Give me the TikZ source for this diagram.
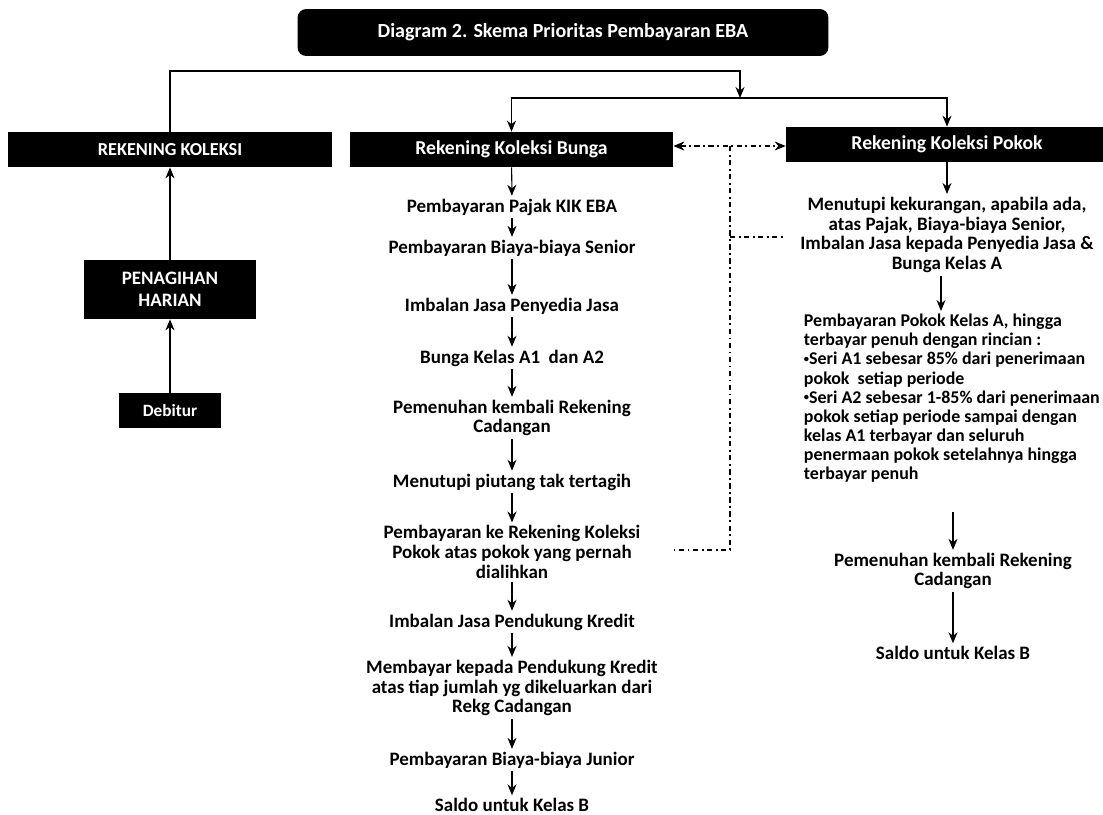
\documentclass[tikz,border=0pt]{standalone}
\usepackage{fontspec}
\setmainfont{Carlito}
\usetikzlibrary{arrows.meta,positioning,calc}
\newcommand{\dotb}{\raisebox{0.25ex}{\fontsize{6}{6}\selectfont•}}
\tikzset{
  acct/.style={fill=black, text=white, inner sep=2pt, minimum height=7mm, font=\fontsize{11.2}{12}\selectfont\bfseries},
  ttl/.style={fill=black, text=white, rounded corners=5pt, minimum width=10.62cm, minimum height=9.4mm, font=\fontsize{11.4}{13}\selectfont\bfseries},
  stp/.style={align=center, inner sep=1.5pt, font=\fontsize{10.8}{11.3}\selectfont\bfseries},
  flow/.style={-{Stealth[length=2.2mm,width=1.8mm]}, semithick},
  dlink/.style={semithick, dash pattern=on 3pt off 2pt on 1pt off 2pt}
}
\begin{document}
\begin{tikzpicture}[x=0.02cm,y=-0.02cm]
  \useasboundingbox (0,0) rectangle (1103,815);
  \node[ttl] (title) at (563,32.5) {Diagram 2. Skema Prioritas Pembayaran EBA};
  % left column
  \node[acct, minimum width=6.48cm, font=\fontsize{10.4}{11}\selectfont\bfseries] (rk) at (170,149.5) {REKENING KOLEKSI};
  \node[acct, minimum width=3.46cm, minimum height=11.8mm, align=center, font=\fontsize{10.8}{12.5}\selectfont\bfseries] (tagih) at (170,289.5) {PENAGIHAN\\HARIAN};
  \node[acct, minimum width=2.04cm, font=\fontsize{9.8}{11}\selectfont\bfseries] (deb) at (170,410.5) {Debitur};
  % accounts
  \node[acct, minimum width=6.46cm] (rkb) at (511.5,149.5) {Rekening Koleksi Bunga};
  \node[acct, minimum width=6.44cm] (rkp) at (947,144.5) {Rekening Koleksi Pokok};
  % interest waterfall
  \node[stp] (b1) at (512,207) {Pembayaran Pajak KIK EBA};
  \node[stp] (b2) at (512,248) {Pembayaran Biaya-biaya Senior};
  \node[stp] (b3) at (512,306) {Imbalan Jasa Penyedia Jasa};
  \node[stp] (b4) at (512,358) {Bunga Kelas A1~ dan A2};
  \node[stp] (b5) at (512,418) {Pemenuhan kembali Rekening\\Cadangan};
  \node[stp] (b6) at (512,482) {Menutupi piutang tak tertagih};
  \node[stp] (b7) at (512,552) {Pembayaran ke Rekening Koleksi\\Pokok atas pokok yang pernah\\dialihkan};
  \node[stp] (b8) at (512,622) {Imbalan Jasa Pendukung Kredit};
  \node[stp] (b9) at (512,688) {Membayar kepada Pendukung Kredit\\atas tiap jumlah yg dikeluarkan dari\\Rekg Cadangan};
  \node[stp] (b10) at (512,760) {Pembayaran Biaya-biaya Junior};
  \node[stp] (b11) at (512,805) {Saldo untuk Kelas B};
  % principal waterfall
  \node[stp] (p1) at (947,235) {Menutupi kekurangan, apabila ada,\\atas Pajak, Biaya-biaya Senior,\\Imbalan Jasa kepada Penyedia Jasa \&\\Bunga Kelas A};
  \node[stp, align=left, anchor=north west, font=\fontsize{10.2}{10.9}\selectfont\bfseries] (p2) at (801,311) {Pembayaran Pokok Kelas A, hingga\\terbayar penuh dengan rincian :\\\dotb Seri A1 sebesar 85\% dari penerimaan\\pokok~ setiap periode\\\dotb Seri A2 sebesar 1-85\% dari penerimaan\\pokok setiap periode sampai dengan\\kelas A1 terbayar dan seluruh\\penermaan pokok setelahnya hingga\\terbayar penuh};
  \node[stp] (p3) at (953,571) {Pemenuhan kembali Rekening\\Cadangan};
  \node[stp] (p4) at (953,653) {Saldo untuk Kelas B};
  % helper points
  \coordinate (top) at (740,71);
  \coordinate (split) at (740,98);
  \coordinate (jt) at (730,146);
  \coordinate (jm) at (730,237);
  \coordinate (jb) at (730,550);
  \coordinate (bk) at (673,550);
  % arrows
  \draw[flow] (deb) -- (tagih);
  \draw[flow] (tagih) -- (rk);
  \draw[flow] (rk.north) |- (top) -- (split);
  \draw[flow] (split) -| (rkb);
  \draw[flow] (split) -| (rkp);
  \draw[flow] (rkb) -- (b1);
  \foreach \a/\b in {b1/b2,b2/b3,b3/b4,b4/b5,b5/b6,b6/b7,b7/b8,b8/b9,b9/b10,b10/b11}
    \draw[flow] (\a) -- (\b);
  \draw[flow] (rkp) -- (p1);
  \draw[flow] (p1.south -| 941,0) -- (p2.north -| 941,0);
  \draw[flow, shorten <=15pt] (p2.south -| p3) -- (p3);
  \draw[flow] (p3) -- (p4);
  % dash-dot links
  \draw[dlink, {Stealth[length=2.2mm,width=1.8mm]}-{Stealth[length=2.2mm,width=1.8mm]}] (rkb.east |- jt) -- (rkp.west |- jt);
  \draw[dlink] (jm) -- (rkp.west |- jm);
  \draw[dlink] (jt) -- (jb) -- (bk);
\end{tikzpicture}
\end{document}
